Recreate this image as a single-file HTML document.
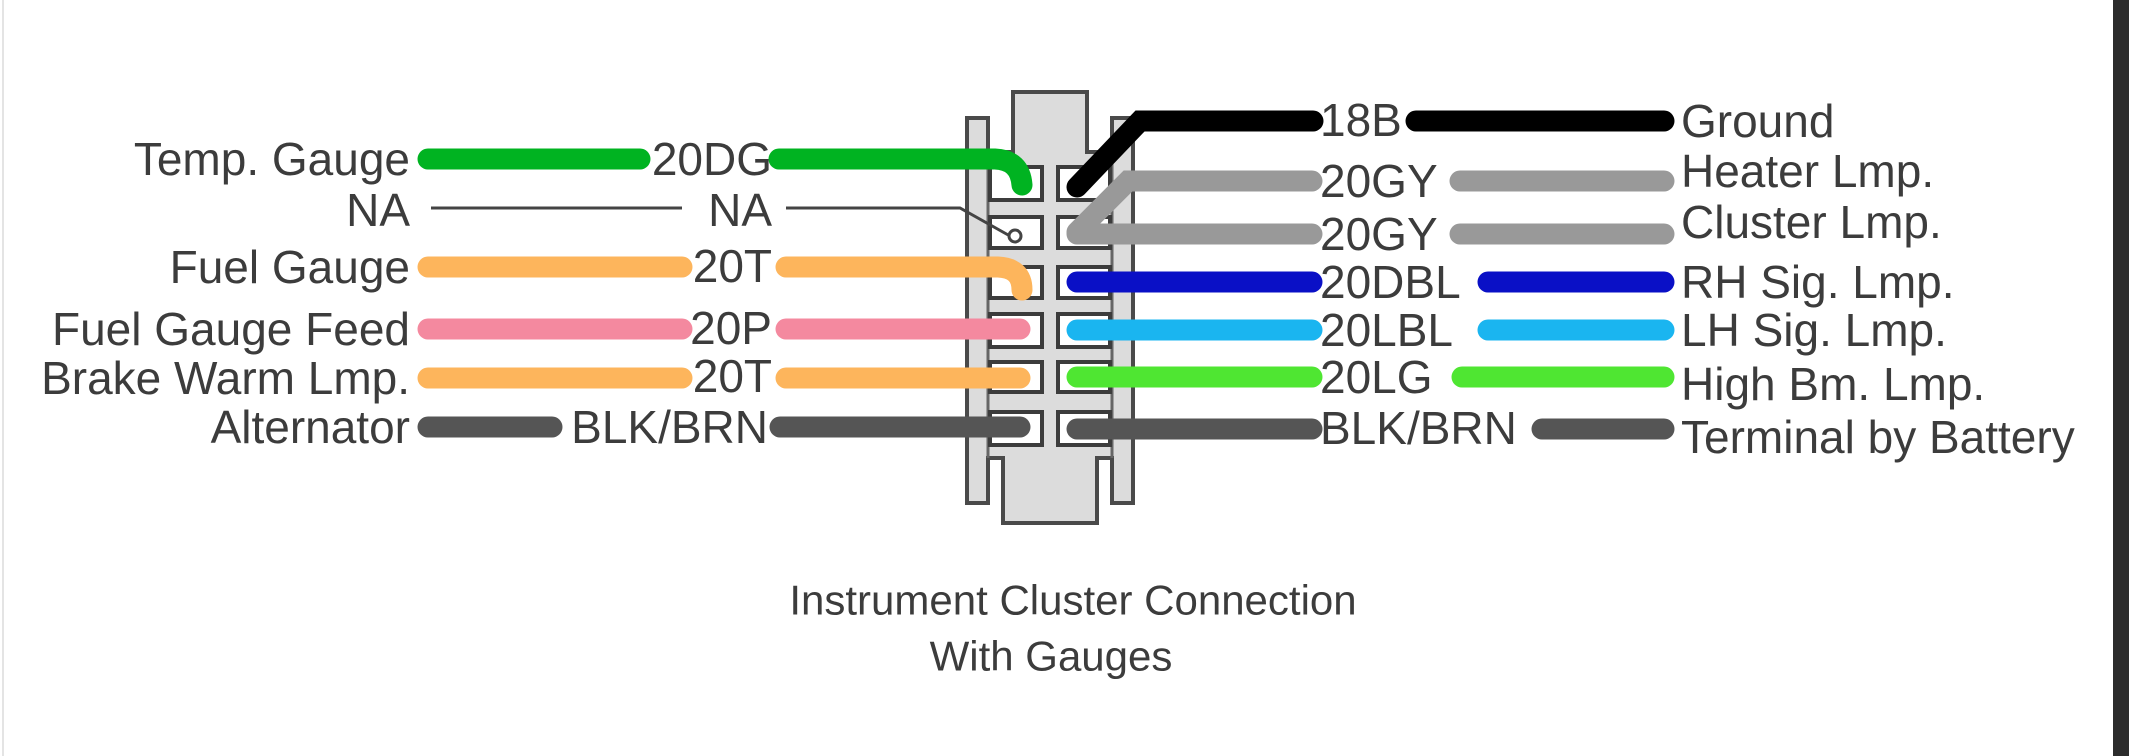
<!DOCTYPE html>
<html><head><meta charset="utf-8"><style>
html,body{margin:0;padding:0;background:#fff;}
svg{display:block}
text{font-family:"Liberation Sans",Arial,sans-serif;font-size:46px;fill:#3c3c3c;}
</style></head><body>
<svg width="2129" height="756" viewBox="0 0 2129 756" xmlns="http://www.w3.org/2000/svg">
<rect x="0" y="0" width="2129" height="756" fill="#fff"/>
<rect x="2113" y="0" width="16" height="756" fill="#2c2c2c"/>
<rect x="2" y="0" width="2" height="756" fill="#e4e4e4"/>

<path d="M1013,92 H1087 V152 H1112 V118 H1133 V503 H1112 V458 H1097 V523 H1003 V458 H988 V503 H967 V118 H988 V152 H1013 Z" fill="#dcdcdc" stroke="#4a4a4a" stroke-width="4"/>
<line x1="988" y1="152" x2="988" y2="458" stroke="#666" stroke-width="3"/>
<line x1="1112" y1="152" x2="1112" y2="458" stroke="#666" stroke-width="3"/>
<g fill="#fff" stroke="#3c3c3c" stroke-width="4">
<rect x="990" y="167" width="52" height="33"/><rect x="1058" y="167" width="52" height="33"/>
<rect x="990" y="217" width="52" height="31"/><rect x="1058" y="217" width="52" height="31"/>
<rect x="990" y="267" width="52" height="31"/><rect x="1058" y="267" width="52" height="31"/>
<rect x="990" y="314" width="52" height="33"/><rect x="1058" y="314" width="52" height="33"/>
<rect x="990" y="362" width="52" height="30"/><rect x="1058" y="362" width="52" height="30"/>
<rect x="990" y="412" width="52" height="33"/><rect x="1058" y="412" width="52" height="33"/>
</g>

<g fill="none" stroke-linecap="round" stroke-width="21">
<line x1="428" y1="159" x2="640" y2="159" stroke="#00b321"/>
<path d="M779,159 H995 Q1020,160 1022,185" stroke="#00b321"/>
<line x1="428" y1="267" x2="682" y2="267" stroke="#fdb55c"/>
<path d="M786,267 H998 Q1022,268 1022,290" stroke="#fdb55c"/>
<line x1="428" y1="329" x2="682" y2="329" stroke="#f4899f"/>
<line x1="786" y1="329" x2="1020" y2="329" stroke="#f4899f"/>
<line x1="428" y1="378" x2="682" y2="378" stroke="#fdb55c"/>
<line x1="786" y1="378" x2="1020" y2="378" stroke="#fdb55c"/>
<line x1="428" y1="427" x2="552" y2="427" stroke="#555"/>
<line x1="780" y1="427" x2="1020" y2="427" stroke="#555"/>
<path d="M1077,187 L1140,121 H1313" stroke="#000"/>
<line x1="1416" y1="121" x2="1664" y2="121" stroke="#000"/>
<path d="M1077,232 L1128,181 H1312" stroke="#999"/>
<line x1="1460" y1="181" x2="1664" y2="181" stroke="#999"/>
<line x1="1077" y1="234" x2="1312" y2="234" stroke="#999"/>
<line x1="1460" y1="234" x2="1664" y2="234" stroke="#999"/>
<line x1="1077" y1="282" x2="1312" y2="282" stroke="#0a10c6"/>
<line x1="1488" y1="282" x2="1664" y2="282" stroke="#0a10c6"/>
<line x1="1077" y1="330" x2="1312" y2="330" stroke="#1ab5f0"/>
<line x1="1488" y1="330" x2="1664" y2="330" stroke="#1ab5f0"/>
<line x1="1077" y1="377" x2="1312" y2="377" stroke="#4fe632"/>
<line x1="1462" y1="377" x2="1664" y2="377" stroke="#4fe632"/>
<line x1="1077" y1="429" x2="1312" y2="429" stroke="#555"/>
<line x1="1542" y1="429" x2="1664" y2="429" stroke="#555"/>
</g>
<path d="M431,208 H682 M786,208 H960 L1010,236" fill="none" stroke="#444" stroke-width="3"/>
<circle cx="1015" cy="236" r="6" fill="none" stroke="#444" stroke-width="3"/>

<g text-anchor="end" dominant-baseline="central">
<text x="410" y="159">Temp. Gauge</text>
<text x="410" y="210">NA</text>
<text x="410" y="267">Fuel Gauge</text>
<text x="410" y="329">Fuel Gauge Feed</text>
<text x="410" y="378">Brake Warm Lmp.</text>
<text x="410" y="427">Alternator</text>
<text x="772" y="159">20DG</text>
<text x="772" y="210">NA</text>
<text x="772" y="266">20T</text>
<text x="772" y="328">20P</text>
<text x="772" y="376">20T</text>
<text x="768" y="427">BLK/BRN</text>
</g>
<g dominant-baseline="central">
<text x="1320" y="120">18B</text>
<text x="1320" y="181">20GY</text>
<text x="1320" y="234">20GY</text>
<text x="1320" y="282">20DBL</text>
<text x="1320" y="330">20LBL</text>
<text x="1320" y="377">20LG</text>
<text x="1320" y="428">BLK/BRN</text>
<text x="1681" y="121">Ground</text>
<text x="1681" y="171">Heater Lmp.</text>
<text x="1681" y="222">Cluster Lmp.</text>
<text x="1681" y="282">RH Sig. Lmp.</text>
<text x="1681" y="330">LH Sig. Lmp.</text>
<text x="1681" y="384">High Bm. Lmp.</text>
<text x="1681" y="437">Terminal by Battery</text>
</g>
<g text-anchor="middle" dominant-baseline="central">
<text x="1073" y="600" style="font-size:42px">Instrument Cluster Connection</text>
<text x="1051" y="656" style="font-size:42px">With Gauges</text>
</g>
</svg>
</body></html>
